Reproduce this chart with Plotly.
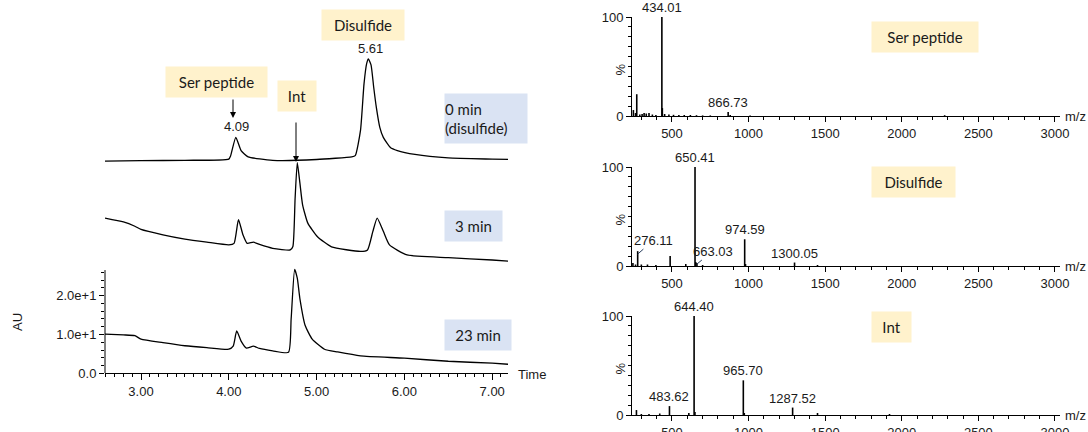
import plotly.graph_objects as go

W, H = 1088, 432

# chromatograms (time in min, AU); upper traces are stacked with an offset
t_0min = [2.59, 3.00, 3.50, 4.00, 4.02, 4.08, 4.14, 4.22, 4.50, 5.00, 5.40, 5.44, 5.50, 5.54, 5.57,
          5.59, 5.62, 5.65, 5.68, 5.72, 5.76, 5.84, 5.92, 6.12, 6.50, 7.00, 7.20]
au_0min = [4.7, 4.8, 4.9, 5.2, 6.0, 10.8, 7.4, 5.8, 4.9, 5.1, 5.8, 6.1, 12.6, 24.6, 29.8,
           31.0, 29.5, 23.8, 18.6, 13.4, 10.8, 8.2, 7.4, 6.4, 5.5, 5.2, 5.1]

t_3min = [2.59, 2.80, 2.93, 3.00, 3.25, 3.50, 3.75, 4.00, 4.06, 4.11, 4.16, 4.21, 4.28, 4.35, 4.50,
          4.70, 4.73, 4.755, 4.78, 4.81, 4.84, 4.90, 5.01, 5.17, 5.50, 5.58, 5.64, 5.69, 5.76,
          5.83, 6.03, 6.50, 7.00, 7.20]
au_3min = [15.0, 14.0, 12.9, 12.1, 10.7, 9.6, 8.8, 8.1, 8.5, 14.6, 10.8, 8.5, 8.8, 8.2, 7.2,
           6.8, 7.7, 20.0, 29.3, 24.0, 18.5, 13.7, 10.2, 7.6, 6.4, 6.8, 11.5, 15.0, 11.6,
           8.1, 5.5, 4.8, 4.2, 3.9]

t_23min = [2.59, 2.80, 2.93, 3.00, 3.25, 3.50, 3.75, 4.00, 4.05, 4.09, 4.14, 4.20, 4.28, 4.35, 4.50,
           4.68, 4.71, 4.75, 4.78, 4.81, 4.87, 4.95, 5.09, 5.24, 5.50, 6.00, 6.50, 7.00, 7.20]
au_23min = [10.1, 9.9, 9.7, 8.8, 7.9, 7.1, 6.6, 6.2, 7.0, 10.9, 8.3, 6.5, 7.0, 6.4, 5.8,
            5.4, 14.0, 26.8, 24.5, 19.2, 12.3, 8.8, 6.2, 5.5, 4.5, 3.9, 3.1, 2.6, 2.3]

offsets = {"0min": 50, "3min": 25, "23min": 0}

x_tick_vals = [3.0, 4.0, 5.0, 6.0, 7.0]
x_tick_text = ["3.00", "4.00", "5.00", "6.00", "7.00"]
y_tick_vals = [0, 10, 20]
y_tick_text = ["0.0", "1.0e+1", "2.0e+1"]

# mass spectra (m/z, relative intensity %)
ser_mz = [248, 262, 270, 290, 305, 318, 332, 350, 372, 395, 434.01, 437, 452, 480, 510, 545,
          580, 620, 660, 700, 750, 866.73, 880, 1010, 2280]
ser_int = [6, 3, 22, 1.5, 2, 3, 2.5, 3, 1.5, 1, 100, 8, 2, 1.5, 1.2, 1,
           1, 1, 0.8, 0.6, 0.6, 4, 1, 0.5, 0.8]

dis_mz = [245, 262, 276.11, 300, 340, 395, 488, 590, 650.41, 655, 663.03, 700, 974.59, 980, 1300.05, 1450]
dis_int = [3, 1.5, 15, 1.5, 1.5, 1, 10, 2, 100, 4, 3, 1, 27, 2, 3.5, 1]

int_mz = [268, 300, 350, 420, 483.62, 610, 644.40, 650, 965.70, 972, 1287.52, 1450, 1920]
int_int = [5, 1, 1, 1.5, 9, 2, 100, 3, 35, 2, 7.5, 2, 1]

mz_tick_vals = [500, 1000, 1500, 2000, 2500, 3000]

NUM_FONT = dict(family="Liberation Sans, Arial", size=13, color="#1a1a1a")
BOX_FONT = dict(family="Lato, Noto Sans", size=15, color="#1a1a1a")
YELLOW = "#FFF2CC"
BLUE = "#DAE3F3"


# screen pixel -> paper fraction
def px(x):
    return x / W


def py(y):
    return 1 - y / H


def note(x, y, text, xanchor="center", yanchor="middle", **kw):
    fig.add_annotation(x=px(x), y=py(y), xref="paper", yref="paper", text=text, showarrow=False,
                       xanchor=xanchor, yanchor=yanchor, **kw)


fig = go.Figure()

# chromatogram traces
for t, au, key in [(t_0min, au_0min, "0min"), (t_3min, au_3min, "3min"), (t_23min, au_23min, "23min")]:
    fig.add_trace(go.Scatter(x=t, y=[v + offsets[key] for v in au], mode="lines",
                             line=dict(color="black", width=1.3, shape="spline", smoothing=0.5),
                             xaxis="x", yaxis="y", showlegend=False, hoverinfo="skip"))

# spectra as sticks
spectra = [(ser_mz, ser_int, "2"), (dis_mz, dis_int, "3"), (int_mz, int_int, "4")]
for mz, inten, n in spectra:
    xs, ys = [], []
    for m, i in zip(mz, inten):
        xs += [m, m, None]
        ys += [0, i, None]
    fig.add_trace(go.Scatter(x=xs, y=ys, mode="lines", line=dict(color="black", width=1.6),
                             xaxis="x" + n, yaxis="y" + n, showlegend=False, hoverinfo="skip"))

# left axes (0 AU at y=373.3 px, 3.88 px per AU)
y_zero, au_px = 373.3, 3.88
fig.update_layout(
    xaxis=dict(domain=[px(105), px(508)], range=[2.59, 7.18], anchor="y", automargin=False,
               showline=True, linecolor="black", linewidth=1, showgrid=False, zeroline=False,
               tickmode="array", tickvals=x_tick_vals, ticktext=x_tick_text,
               ticks="outside", ticklen=6, tickcolor="black", tickfont=NUM_FONT,
               minor=dict(dtick=0.1, tick0=0, ticks="outside", ticklen=3, tickcolor="black")),
    yaxis=dict(domain=[py(y_zero), 1], range=[0, y_zero / au_px], anchor="x",
               automargin=False, showline=False, showgrid=False, zeroline=False,
               tickmode="array", tickvals=y_tick_vals, ticktext=y_tick_text,
               ticks="outside", ticklen=5, tickcolor="black", tickfont=NUM_FONT,
               minor=dict(tickmode="array", tickvals=[2, 4, 6, 8, 12, 14, 16, 18, 22, 24, 26],
                          ticks="outside", ticklen=3, tickcolor="black")),
)
fig.add_shape(type="line", xref="paper", yref="y", x0=px(105), x1=px(105), y0=0, y1=26.6,
              line=dict(color="black", width=1))

# spectra axes
panels = [("2", 116, 17), ("3", 266, 167), ("4", 415, 316)]
for n, y0, y100 in panels:
    fig.update_layout(**{
        "xaxis" + n: dict(domain=[px(632), px(1060)], range=[239, 3033], anchor="y" + n,
                          automargin=False,
                          showline=True, linecolor="black", linewidth=1, showgrid=False, zeroline=False,
                          tickmode="array", tickvals=mz_tick_vals, ticks="outside", ticklen=5,
                          tickcolor="black", tickfont=NUM_FONT,
                          minor=dict(dtick=100, tick0=0, ticks="outside", ticklen=3, tickcolor="black")),
        "yaxis" + n: dict(domain=[py(y0), py(y100)], range=[0, 100], anchor="x" + n,
                          automargin=False,
                          showline=True, linecolor="black", linewidth=1, showgrid=False, zeroline=False,
                          tickmode="array", tickvals=[0, 100], ticks="outside", ticklen=5,
                          tickcolor="black", tickfont=NUM_FONT,
                          minor=dict(dtick=10, tick0=0, ticks="outside", ticklen=3, tickcolor="black")),
    })
    note(1063, y0, "m/z", xanchor="left", font=NUM_FONT)
    note(620, (y0 + y100) / 2 + 3, "%", textangle=-90, font=NUM_FONT)

# spectra peak labels
peak_labels = [("2", 434.01, 100, "434.01"), ("2", 866.73, 4, "866.73"),
               ("3", 650.41, 100, "650.41"), ("3", 974.59, 27, "974.59"), ("3", 1300.05, 3.5, "1300.05"),
               ("4", 644.40, 100, "644.40"), ("4", 965.70, 35, "965.70"), ("4", 483.62, 9, "483.62"),
               ("4", 1287.52, 7.5, "1287.52")]
for n, m, i, txt in peak_labels:
    fig.add_annotation(x=m, y=i, xref="x" + n, yref="y" + n, text=txt, showarrow=False,
                       xanchor="center", yanchor="bottom", yshift=0, font=NUM_FONT)
fig.add_annotation(x=276.11, y=12, xref="x3", yref="y3", text="276.11", showarrow=True,
                   arrowhead=0, arrowwidth=1, ax=16, ay=-14, font=NUM_FONT)
fig.add_annotation(x=663.03, y=2, xref="x3", yref="y3", text="663.03", showarrow=True,
                   arrowhead=0, arrowwidth=1, ax=16, ay=-13, font=NUM_FONT)

# chromatogram peak labels
fig.add_annotation(x=4.09, y=au_0min[5] + offsets["0min"], xref="x", yref="y", text="4.09",
                   showarrow=False, xanchor="center", yanchor="bottom", yshift=1, font=NUM_FONT)
fig.add_annotation(x=5.61, y=au_0min[15] + offsets["0min"], xref="x", yref="y", text="5.61",
                   showarrow=False, xanchor="center", yanchor="bottom", yshift=1, font=NUM_FONT)


# boxes
def box(x0, y0, x1, y1, text, color, align="center"):
    note((x0 + x1) / 2, (y0 + y1) / 2, text, bgcolor=color, width=x1 - x0, height=y1 - y0,
         align=align, font=BOX_FONT, borderpad=0)


box(166, 67, 267, 97, "Ser peptide", YELLOW)
box(278, 81, 316, 111, "Int", YELLOW)
box(322, 10, 404, 40, "Disulfide", YELLOW)
box(445, 94, 527, 143, "0 min<br>(disulfide)", BLUE, align="left")
box(445, 211, 502, 241, "3 min", BLUE)
box(445, 320, 511, 350, "23 min", BLUE)
box(872, 22, 978, 52, "Ser peptide", YELLOW)
box(872, 167, 955, 197, "Disulfide", YELLOW)
box(872, 312, 911, 342, "Int", YELLOW)

# arrows (tail offset in pixels)
fig.add_annotation(x=px(233), y=py(118), xref="paper", yref="paper", ax=0, ay=-20,
                   text="", showarrow=True, arrowhead=2, arrowsize=1.2, arrowwidth=1,
                   arrowcolor="black")
fig.add_annotation(x=px(296), y=py(162), xref="paper", yref="paper", ax=0, ay=-41,
                   text="", showarrow=True, arrowhead=2, arrowsize=1.2, arrowwidth=1,
                   arrowcolor="black")

# axis titles
note(17, 322, "AU", textangle=-90, font=NUM_FONT)
note(516, 374, "Time", xanchor="left", font=NUM_FONT)

fig.update_layout(width=W, height=H, margin=dict(l=0, r=0, t=0, b=0),
                  paper_bgcolor="white", plot_bgcolor="white")

# drop the default page margin so the figure sits at the window's top-left corner
fig.write_html("out.html", config={"displayModeBar": False},
               post_script="document.body.style.margin = '0';")
